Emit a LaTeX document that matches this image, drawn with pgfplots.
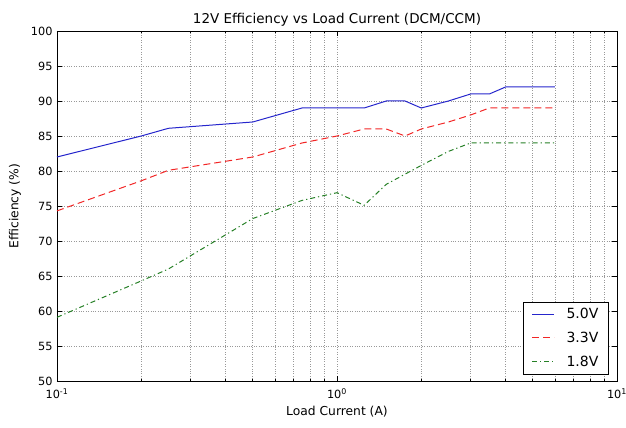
\documentclass[border=0pt]{standalone}
\usepackage{pgfplots}
\pgfplotsset{compat=1.18}
\usepackage{fontspec}
\setmainfont{DejaVu Sans}
\definecolor{mplblue}{rgb}{0.15,0.15,0.8}
\definecolor{mplred}{rgb}{0.95,0.15,0.15}
\definecolor{mplgreen}{rgb}{0.15,0.5,0.15}
\begin{document}
\begin{tikzpicture}
\useasboundingbox (-57pt,-47pt) rectangle (569pt,381pt);
\begin{axis}[
  at={(0,0)}, anchor=south west,
  scale only axis, width=560pt, height=350pt,
  xmode=log, xmin=0.1, xmax=10, ymin=50, ymax=100,
  log basis x=10,
  xtick={0.1,1,10},
  minor xtick={0.2,0.3,0.4,0.5,0.6,0.7,0.8,0.9,2,3,4,5,6,7,8,9},
  xticklabels={10\textsuperscript{-1},10\textsuperscript{0},10\textsuperscript{1}},
  ytick={50,55,...,100},
  /pgf/number format/assume math mode=true,
  tick label style={font=\fontsize{11.3}{13}\selectfont},
  xticklabel style={yshift=-4pt},
  yticklabel style={xshift=-1pt},
  tick align=inside,
  major tick length=5pt, minor tick length=2.5pt,
  tick style={black, line width=0.5pt},
  grid=both,
  major grid style={gray!80, dotted, line width=0.6pt},
  minor grid style={gray!80, dotted, line width=0.6pt},
  axis line style={black, line width=0.8pt},
  title={12V Efficiency vs Load Current (DCM/CCM)},
  title style={font=\fontsize{13.5}{15}\selectfont, yshift=-5pt},
  xlabel={Load Current (A)},
  ylabel={Efficiency (\%)},
  label style={font=\fontsize{12.3}{14}\selectfont},
  xlabel style={yshift=-1pt},
  ylabel style={yshift=3pt},
  legend style={font=\fontsize{14}{16}\selectfont, at={(0.985,0.02)}, anchor=south east, row sep=8pt, inner xsep=8pt, inner ysep=4pt,
    /tikz/every odd column/.append style={column sep=10pt}},
  legend cell align=left,
  legend image code/.code={\draw[#1] (0pt,0pt) -- (22pt,0pt);},
]
\addplot[mplblue, line width=1pt] coordinates {
(0.1,82) (0.2,85) (0.25,86.1) (0.5,87) (0.75,89) (1.0,89) (1.25,89) (1.5,90) (1.75,90) (2.0,89) (2.5,90) (3.0,91) (3.5,91) (4.0,92) (5.0,92) (6.0,92)};
\addlegendentry{5.0V}
\addplot[mplred, line width=1pt, dash pattern=on 7pt off 4pt] coordinates {
(0.1,74.3) (0.2,78.6) (0.25,80.1) (0.5,82) (0.75,84) (1.0,85) (1.25,86) (1.5,86) (1.75,85) (2.0,86) (2.5,87) (3.0,88) (3.5,89) (4.0,89) (5.0,89) (6.0,89)};
\addlegendentry{3.3V}
\addplot[mplgreen, line width=1pt, dash pattern=on 5pt off 3pt on 1.2pt off 3pt] coordinates {
(0.1,59.1) (0.2,64.3) (0.25,66) (0.5,73.2) (0.75,75.8) (1.0,76.9) (1.25,75.1) (1.5,78.1) (2.0,80.8) (2.5,82.8) (3.0,84) (4.0,84) (5.0,84) (6.0,84)};
\addlegendentry{1.8V}
\end{axis}
\end{tikzpicture}
\end{document}
